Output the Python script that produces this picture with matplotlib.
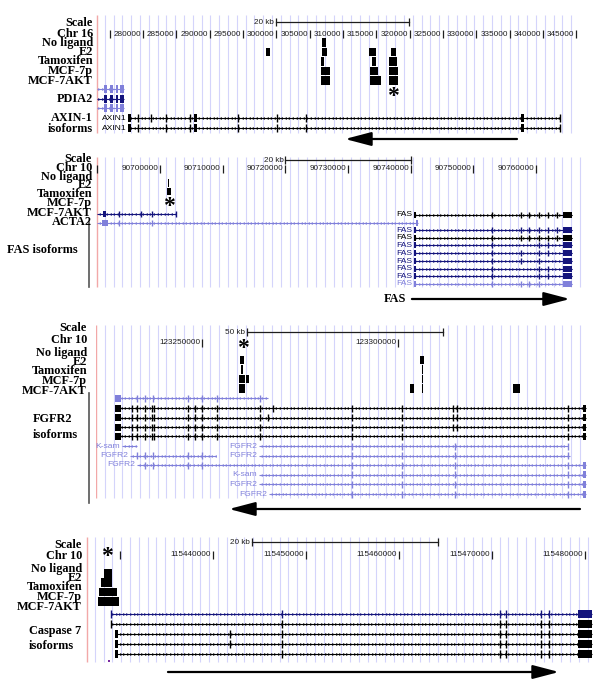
import numpy as np
import matplotlib
matplotlib.use('Agg')
import matplotlib.pyplot as plt

# figure is 600 x 688 px, genome-browser style panels
W, H = 600, 688
fig = plt.figure(figsize=(6, 6.88), dpi=100)

SERIF = 'Liberation Serif'
SANS = 'Liberation Sans'
NAVY = '#14147c'
LIGHT = '#8080da'
GRID = '#d4d4fb'
PINK = '#f2a8a8'
INK = '#1e1e1e'

tracks = ['No ligand', 'E2', 'Tamoxifen', 'MCF-7p', 'MCF-7AKT']

# %% data : panel 1  ( AXIN-1, chr16 )
p1_xlim = (272950, 345550)
p1_ticks = list(range(275000, 345001, 5000))
p1_scale = (299900, 319900)
p1_peaks = [(1, 298500, 299100),
            (0, 306850, 307450), (1, 306850, 307600), (2, 306700, 307150),
            (3, 306700, 308050), (4, 306700, 308050),
            (1, 313900, 314950), (2, 314350, 314950), (3, 314050, 315250),
            (4, 314050, 315700),
            (1, 317200, 317950), (2, 316900, 318100), (3, 316900, 318250),
            (4, 316900, 318250)]
p1_star = 317500
pdia2_span = (273100, 277150)
pdia2_blocks = [(274150, 274600), (275050, 275500), (275950, 276250), (276550, 277150)]
axin1_span = (277750, 342550)
axin1_blocks = [(277750, 278200), (287650, 288100), (336650, 337200)]
axin1_exons = [279250, 283450, 287050, 294250, 300100, 304450, 342550]
p1_arrow = (336100, 310300)

# %% data : panel 2  ( FAS, chr10 )
p2_xlim = (90689800, 90767800)
p2_ticks = list(range(90690000, 90760001, 10000))
p2_scale = (90720000, 90740000)
p2_peaks = [(1, 90701280, 90701500), (2, 90701120, 90701750)]
p2_star = 90701400
acta2_a = (90689950, 90702550)
acta2_a_blocks = [(90690900, 90691400)]
acta2_a_exons = [90693450, 90697050, 90698700, 90702550]
acta2_b = (90689950, 90741150)
acta2_b_blocks = [(90690750, 90691700), (90740830, 90741150)]
acta2_b_exons = [90693450, 90698700]
fas_span = (90740510, 90765710)
fas_blocks = [(90740510, 90740830), (90764330, 90765660)]
fas_exons = [
    [90753030, 90757640, 90758900, 90760500, 90761930, 90763270],
    [90753030, 90757640, 90758900, 90760500, 90761930, 90763270],
    [90753030, 90757640, 90758900, 90760500, 90761930, 90763270],
    [90753030, 90760500, 90761930],
    [90753030, 90757640, 90760500, 90761930],
    [90753030, 90757640, 90760500],
    [90753030, 90760500, 90761930],
    [90753030, 90760500, 90761930],
    [90753030, 90757640, 90758900, 90760500],
]
fas_colors = ['k', NAVY, 'k', NAVY, NAVY, NAVY, NAVY, NAVY, LIGHT]
p2_arrow = (90740190, 90765400)

# %% data : panel 3  ( FGFR2, chr10 )
p3_xlim = (123222970, 123348175)
p3_ticks = [123250000, 123300000]
p3_scale = (123261500, 123311500)
p3_peaks = [(1, 123259690, 123260710), (2, 123259945, 123260455),
            (3, 123259435, 123260965), (3, 123261220, 123261985),
            (4, 123259435, 123260965),
            (1, 123305590, 123306610), (2, 123306100, 123306480),
            (3, 123306100, 123306480), (4, 123306100, 123306480),
            (4, 123303040, 123304060), (4, 123329305, 123331090)]
p3_star = 123260455
fgfr2_start_block = (123227815, 123229345)
fgfr2_end_block = (123347155, 123347920)
fgfr2_common = [123232150, 123233425, 123235465, 123237250, 123237760, 123246430,
                123248200, 123250000, 123253825, 123264790, 123288250, 123301000,
                123343330]
fgfr2_extra = [[123268105, 123314005, 123315025],
               [123266830, 123314005, 123315025],
               [123314005, 123315025],
               []]
fgfr2_short = (123227815, 123266830)
fgfr2_short_exons = [123233425, 123235465, 123237500, 123246430, 123250000,
                     123253825, 123264790]
right_exons = [123288250, 123301000, 123314500, 123343330]
# ( name, start, end, exons, end block )
fgfr2_light = [
    ('K-sam', 123229600, 123233425, [], False),
    ('FGFR2', 123264535, 123343330, right_exons, False),
    ('FGFR2', 123231640, 123253570, [123233425, 123235465, 123237500, 123246430, 123250000], False),
    ('FGFR2', 123264535, 123343840, right_exons, False),
    ('FGFR2', 123233425, 123347920, [123235465, 123237500, 123246430, 123250000] + right_exons, True),
    ('K-sam', 123264535, 123347920, right_exons, True),
    ('FGFR2', 123264535, 123347920, right_exons, True),
    ('FGFR2', 123267085, 123347920, right_exons, True),
]
fgfr2_light_rows = [446, 446, 455.5, 455.5, 465, 474.5, 484, 494]
p3_arrow = (123346390, 123256885)

# %% data : panel 4  ( Caspase 7, chr10 )
p4_xlim = (115426347, 115480850)
p4_ticks = list(range(115430000, 115480001, 10000))
p4_scale = (115444200, 115464200)
p4_peaks = [(1, 115428282, 115429142), (2, 115427960, 115429142),
            (3, 115427745, 115429680), (4, 115427637, 115429895)]
p4_star = 115428605
casp7_end = 115480740
casp7_end_block = (115479240, 115480740)
casp7_exons = [115447420, 115470850, 115471500, 115475260, 115476120]
casp7_start = [115429035, 115429035, 115429465, 115429465, 115429465]
casp7_extra = [[], [], [115441830], [115441830], []]
casp7_colors = [NAVY, 'k', 'k', 'k', 'k']
p4_arrow = (115435160, 115477195)


# %% helpers

def label(x, y, s, ha='right', size=8.8):
    fig.text(x / W, 1 - y / H, s, ha=ha, va='center', fontsize=size,
             fontweight='bold', family=SERIF, color='k')


def panel(l, r, t, b, xlim):
    # y data = figure pixel row, x data = genome position
    ax = fig.add_axes([l / W, 1 - b / H, (r - l) / W, (b - t) / H])
    ax.set_xlim(*xlim)
    ax.set_ylim(b, t)
    ax.axis('off')
    ax.bpp = (xlim[1] - xlim[0]) / (r - l)
    return ax


def grid(ax, y0, y1, px=8.8):
    x0, x1 = ax.get_xlim()
    step = px * ax.bpp
    ax.vlines(np.arange(x0 + step, x1, step), y0, y1, color=GRID, lw=0.8, zorder=0)
    ax.vlines(x0 + 0.5 * ax.bpp, y0, y1, color=PINK, lw=1.0, zorder=0)


def ruler(ax, ticks, y, skip_first):
    for k, t in enumerate(ticks):
        ax.vlines(t, y - 4, y + 4, color=INK, lw=0.9, clip_on=False)
        if skip_first and k == 0:
            continue
        ax.annotate(f'{t}', (t, y), xytext=(-1.3, 0), textcoords='offset points',
                    ha='right', va='center', fontsize=5.9, family=SANS, color=INK)


def scalebar(ax, x0, x1, y, text):
    ax.plot([x0, x1], [y, y], color=INK, lw=0.9)
    ax.vlines([x0, x1], y - 4, y + 4, color=INK, lw=0.9)
    ax.annotate(text, (x0, y), xytext=(-1.3, 0), textcoords='offset points',
                ha='right', va='center', fontsize=5.9, family=SANS, color=INK)


def peaks(ax, data, top, h):
    for i, s, e in data:
        ax.bar(s, h - 0.6, width=e - s, bottom=top + i * h, align='edge',
               color='k', lw=0)


def gene(ax, y, start, end, color, strand, exons=(), blocks=(), name=None, h=7):
    ax.hlines(y, start, end, color=color, lw=0.8)
    chev = np.arange(start + 2 * ax.bpp, end - ax.bpp, 3.6 * ax.bpp)
    ax.plot(chev, np.full(len(chev), y), ls='none',
            marker='<' if strand == '-' else '>', ms=2.0, mew=0, color=color)
    if len(exons):
        ax.vlines(exons, y - h / 2, y + h / 2, color=color, lw=1.0)
    for s, e in blocks:
        ax.bar(s, h, width=e - s, bottom=y - h / 2, align='edge', color=color, lw=0)
    if name:
        ax.annotate(name, (start, y), xytext=(-1.2, 0), textcoords='offset points',
                    ha='right', va='center', fontsize=6.1, family=SANS, color=color)


def big_arrow(ax, tail, tip, y):
    ax.annotate('', xy=(tip, y), xytext=(tail, y), annotation_clip=False,
                arrowprops=dict(arrowstyle='-|>,head_length=1.6,head_width=0.42',
                                mutation_scale=10, lw=1.6, color='k',
                                shrinkA=0, shrinkB=0))


def star(ax, x, y):
    ax.text(x, y + 4, '*', ha='center', va='center', fontsize=17,
            fontweight='bold', family=SERIF, color='k')


# %% panel 1

ax1 = panel(96, 580, 0, 148, p1_xlim)
grid(ax1, 15, 133)
ruler(ax1, p1_ticks, 34, True)
scalebar(ax1, *p1_scale, 22, '20 kb')
peaks(ax1, p1_peaks, 38, 9.5)
star(ax1, p1_star, 92)
for y, c in zip([89, 98.5, 108], [LIGHT, NAVY, LIGHT]):
    gene(ax1, y, *pdia2_span, c, '+', blocks=pdia2_blocks, h=8)
for k, y in enumerate([118, 128]):
    ex = axin1_exons + ([281200] if k == 0 else [])
    gene(ax1, y, *axin1_span, 'k', '-', exons=ex, blocks=axin1_blocks,
         name='AXIN1', h=8)
big_arrow(ax1, *p1_arrow, 139)

for s, y in zip(['Scale', 'Chr 16'] + tracks + ['PDIA2', 'AXIN-1', 'isoforms'],
                [23, 34, 43, 52, 61, 71, 81, 99, 118, 129]):
    label(93, y, s)

# %% panel 2

ax2 = panel(96, 585, 150, 305, p2_xlim)
grid(ax2, 157, 287)
ruler(ax2, p2_ticks, 169, True)
scalebar(ax2, *p2_scale, 160, '20 kb')
peaks(ax2, p2_peaks, 170.5, 8.5)
star(ax2, p2_star, 203)
gene(ax2, 214, *acta2_a, NAVY, '-', exons=acta2_a_exons, blocks=acta2_a_blocks, h=6)
gene(ax2, 223, *acta2_b, LIGHT, '-', exons=acta2_b_exons, blocks=acta2_b_blocks, h=6)
for y, ex, c in zip([215, 230, 237.7, 245.3, 253.3, 261.3, 268.7, 276.3, 283.7],
                    fas_exons, fas_colors):
    gene(ax2, y, *fas_span, c, '+', exons=ex, blocks=fas_blocks, name='FAS', h=6)
big_arrow(ax2, *p2_arrow, 299)
label(406, 299, 'FAS')
fig.add_artist(plt.Line2D([89 / W, 89 / W], [1 - 222 / H, 1 - 287 / H], color='#555', lw=1.2))

for s, y in zip(['Scale', 'Chr 10'] + tracks + ['ACTA2'],
                [159, 168, 177, 185, 194, 203, 213, 222]):
    label(92, y, s)
label(7, 250, 'FAS isoforms', ha='left')

# %% panel 3

ax3 = panel(96, 587, 315, 515, p3_xlim)
grid(ax3, 325, 498)
ruler(ax3, p3_ticks, 343, False)
scalebar(ax3, *p3_scale, 332, '50 kb')
peaks(ax3, p3_peaks, 346, 9.5)
star(ax3, p3_star, 345)
gene(ax3, 398, *fgfr2_short, LIGHT, '-', exons=fgfr2_short_exons,
     blocks=[fgfr2_start_block], h=7)
for y, extra in zip([408, 417.5, 427, 436], fgfr2_extra):
    gene(ax3, y, fgfr2_start_block[0], fgfr2_end_block[1], 'k', '-',
         exons=fgfr2_common + extra, blocks=[fgfr2_start_block, fgfr2_end_block], h=7)
for y, (name, s, e, ex, endb) in zip(fgfr2_light_rows, fgfr2_light):
    gene(ax3, y, s, e, LIGHT, '-', exons=ex,
         blocks=[fgfr2_end_block] if endb else [], name=name, h=7)
big_arrow(ax3, *p3_arrow, 509)
fig.add_artist(plt.Line2D([89 / W, 89 / W], [1 - 393 / H, 1 - 503 / H], color='#555', lw=1.2))

for s, y in zip(['Scale', 'Chr 10'] + tracks, [328, 340, 353, 362, 371, 381, 391]):
    label(87, y, s)
label(33, 419, 'FGFR2', ha='left')
label(33, 435, 'isoforms', ha='left')

# %% panel 4

ax4 = panel(86, 593, 530, 688, p4_xlim)
grid(ax4, 537, 662)
ruler(ax4, p4_ticks, 555, True)
scalebar(ax4, *p4_scale, 542, '20 kb')
peaks(ax4, p4_peaks, 559.7, 9.3)
star(ax4, p4_star, 552)
for y, st, extra, c in zip([614, 624, 634, 644, 654], casp7_start, casp7_extra, casp7_colors):
    blks = [casp7_end_block] + ([(115429465, 115429790)] if st == 115429465 else [])
    ex = casp7_exons + extra + ([st] if st == 115429035 else [])
    gene(ax4, y, st, casp7_end, c, '+', exons=ex, blocks=blks, h=8)
ax4.plot([115428820], [661], marker='s', ms=1.5, color='#7a2aa0', mew=0)
big_arrow(ax4, *p4_arrow, 672)

for s, y in zip(['Scale', 'Chr 10'] + tracks, [545, 556, 569, 578, 587, 597, 607]):
    label(82, y, s)
label(29, 631, 'Caspase 7', ha='left')
label(29, 646, 'isoforms', ha='left')

plt.savefig('out.png', dpi=100)
